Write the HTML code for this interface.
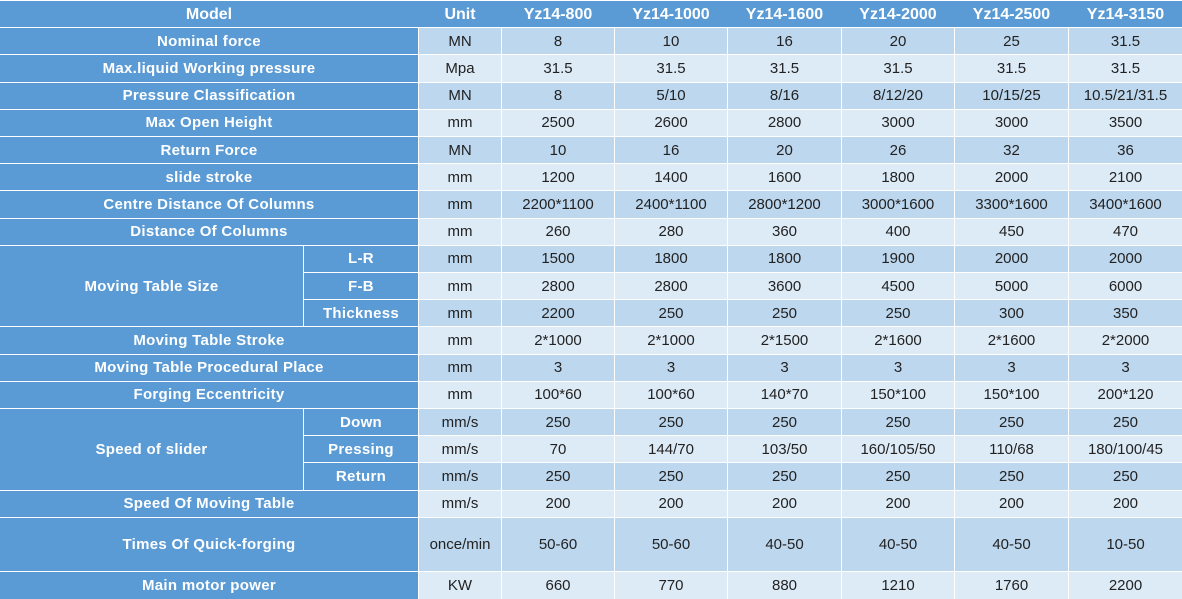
<!DOCTYPE html>
<html><head><meta charset="utf-8">
<style>
html,body{margin:0;padding:0;background:#fff;}
body{width:1182px;height:599px;position:relative;overflow:hidden;font-family:"Liberation Sans",Arial,sans-serif;}
div.x{position:absolute;display:flex;align-items:center;justify-content:center;white-space:nowrap;}
.hb{left:0;top:1px;width:1182px;height:26.2px;background:#5B9BD5;position:absolute;}
.h{color:#fff;font-weight:bold;font-size:16px;top:2px;height:26px;}
.lb{background:#5B9BD5;color:#fff;font-weight:bold;font-size:15px;letter-spacing:0.3px;}
.D{background:#BDD7EE;color:#222;font-size:15px;}
.T{background:#DDEBF7;color:#222;font-size:15px;}
.L{left:0;width:418px;}
.M{left:0;width:303px;}
.S{left:304px;width:114px;}
.u{left:419px;width:82px;}
.a{left:502px;width:112px;}
.b{left:615px;width:112px;}
.c{left:728px;width:113px;}
.d{left:842px;width:112px;}
.e{left:955px;width:113px;}
.f{left:1069px;width:113px;}
.r1{top:28.2px;height:26.2px;}
.r2{top:55.4px;height:26.2px;}
.r3{top:82.6px;height:26.2px;}
.r4{top:109.8px;height:26.2px;}
.r5{top:137px;height:26.2px;}
.r6{top:164.2px;height:26.2px;}
.r7{top:191.4px;height:26.2px;}
.r8{top:218.6px;height:26.2px;}
.r9{top:245.8px;height:26.2px;}
.r10{top:273px;height:26.2px;}
.r11{top:300.2px;height:26.2px;}
.r12{top:327.4px;height:26.2px;}
.r13{top:354.6px;height:26.2px;}
.r14{top:381.8px;height:26.2px;}
.r15{top:409px;height:26.2px;}
.r16{top:436.2px;height:26.2px;}
.r17{top:463.4px;height:26.2px;}
.r18{top:490.6px;height:26.2px;}
.r19{top:517.8px;height:53.4px;}
.r21{top:572.2px;height:26.8px;}
.m1{top:245.8px;height:80.6px;}
.m2{top:409px;height:80.6px;}
</style></head><body>
<div class="hb"></div>
<div class="x h L">Model</div>
<div class="x h u">Unit</div>
<div class="x h a">Yz14-800</div>
<div class="x h b">Yz14-1000</div>
<div class="x h c">Yz14-1600</div>
<div class="x h d">Yz14-2000</div>
<div class="x h e">Yz14-2500</div>
<div class="x h f">Yz14-3150</div>

<div class="x lb L r1">Nominal force</div>
<div class="x D u r1">MN</div><div class="x D a r1">8</div><div class="x D b r1">10</div><div class="x D c r1">16</div><div class="x D d r1">20</div><div class="x D e r1">25</div><div class="x D f r1">31.5</div>

<div class="x lb L r2">Max.liquid Working pressure</div>
<div class="x T u r2">Mpa</div><div class="x T a r2">31.5</div><div class="x T b r2">31.5</div><div class="x T c r2">31.5</div><div class="x T d r2">31.5</div><div class="x T e r2">31.5</div><div class="x T f r2">31.5</div>

<div class="x lb L r3">Pressure Classification</div>
<div class="x D u r3">MN</div><div class="x D a r3">8</div><div class="x D b r3">5/10</div><div class="x D c r3">8/16</div><div class="x D d r3">8/12/20</div><div class="x D e r3">10/15/25</div><div class="x D f r3">10.5/21/31.5</div>

<div class="x lb L r4">Max Open Height</div>
<div class="x T u r4">mm</div><div class="x T a r4">2500</div><div class="x T b r4">2600</div><div class="x T c r4">2800</div><div class="x T d r4">3000</div><div class="x T e r4">3000</div><div class="x T f r4">3500</div>

<div class="x lb L r5">Return Force</div>
<div class="x D u r5">MN</div><div class="x D a r5">10</div><div class="x D b r5">16</div><div class="x D c r5">20</div><div class="x D d r5">26</div><div class="x D e r5">32</div><div class="x D f r5">36</div>

<div class="x lb L r6">slide stroke</div>
<div class="x T u r6">mm</div><div class="x T a r6">1200</div><div class="x T b r6">1400</div><div class="x T c r6">1600</div><div class="x T d r6">1800</div><div class="x T e r6">2000</div><div class="x T f r6">2100</div>

<div class="x lb L r7">Centre Distance Of Columns</div>
<div class="x D u r7">mm</div><div class="x D a r7">2200*1100</div><div class="x D b r7">2400*1100</div><div class="x D c r7">2800*1200</div><div class="x D d r7">3000*1600</div><div class="x D e r7">3300*1600</div><div class="x D f r7">3400*1600</div>

<div class="x lb L r8">Distance Of Columns</div>
<div class="x T u r8">mm</div><div class="x T a r8">260</div><div class="x T b r8">280</div><div class="x T c r8">360</div><div class="x T d r8">400</div><div class="x T e r8">450</div><div class="x T f r8">470</div>

<div class="x lb M m1">Moving Table Size</div>
<div class="x lb S r9">L-R</div>
<div class="x D u r9">mm</div><div class="x D a r9">1500</div><div class="x D b r9">1800</div><div class="x D c r9">1800</div><div class="x D d r9">1900</div><div class="x D e r9">2000</div><div class="x D f r9">2000</div>
<div class="x lb S r10">F-B</div>
<div class="x T u r10">mm</div><div class="x T a r10">2800</div><div class="x T b r10">2800</div><div class="x T c r10">3600</div><div class="x T d r10">4500</div><div class="x T e r10">5000</div><div class="x T f r10">6000</div>
<div class="x lb S r11">Thickness</div>
<div class="x D u r11">mm</div><div class="x D a r11">2200</div><div class="x D b r11">250</div><div class="x D c r11">250</div><div class="x D d r11">250</div><div class="x D e r11">300</div><div class="x D f r11">350</div>

<div class="x lb L r12">Moving Table Stroke</div>
<div class="x T u r12">mm</div><div class="x T a r12">2*1000</div><div class="x T b r12">2*1000</div><div class="x T c r12">2*1500</div><div class="x T d r12">2*1600</div><div class="x T e r12">2*1600</div><div class="x T f r12">2*2000</div>

<div class="x lb L r13">Moving Table Procedural Place</div>
<div class="x D u r13">mm</div><div class="x D a r13">3</div><div class="x D b r13">3</div><div class="x D c r13">3</div><div class="x D d r13">3</div><div class="x D e r13">3</div><div class="x D f r13">3</div>

<div class="x lb L r14">Forging Eccentricity</div>
<div class="x T u r14">mm</div><div class="x T a r14">100*60</div><div class="x T b r14">100*60</div><div class="x T c r14">140*70</div><div class="x T d r14">150*100</div><div class="x T e r14">150*100</div><div class="x T f r14">200*120</div>

<div class="x lb M m2">Speed of slider</div>
<div class="x lb S r15">Down</div>
<div class="x D u r15">mm/s</div><div class="x D a r15">250</div><div class="x D b r15">250</div><div class="x D c r15">250</div><div class="x D d r15">250</div><div class="x D e r15">250</div><div class="x D f r15">250</div>
<div class="x lb S r16">Pressing</div>
<div class="x T u r16">mm/s</div><div class="x T a r16">70</div><div class="x T b r16">144/70</div><div class="x T c r16">103/50</div><div class="x T d r16">160/105/50</div><div class="x T e r16">110/68</div><div class="x T f r16">180/100/45</div>
<div class="x lb S r17">Return</div>
<div class="x D u r17">mm/s</div><div class="x D a r17">250</div><div class="x D b r17">250</div><div class="x D c r17">250</div><div class="x D d r17">250</div><div class="x D e r17">250</div><div class="x D f r17">250</div>

<div class="x lb L r18">Speed Of Moving Table</div>
<div class="x T u r18">mm/s</div><div class="x T a r18">200</div><div class="x T b r18">200</div><div class="x T c r18">200</div><div class="x T d r18">200</div><div class="x T e r18">200</div><div class="x T f r18">200</div>

<div class="x lb L r19">Times Of Quick-forging</div>
<div class="x D u r19">once/min</div><div class="x D a r19">50-60</div><div class="x D b r19">50-60</div><div class="x D c r19">40-50</div><div class="x D d r19">40-50</div><div class="x D e r19">40-50</div><div class="x D f r19">10-50</div>

<div class="x lb L r21">Main motor power</div>
<div class="x T u r21">KW</div><div class="x T a r21">660</div><div class="x T b r21">770</div><div class="x T c r21">880</div><div class="x T d r21">1210</div><div class="x T e r21">1760</div><div class="x T f r21">2200</div>
</body></html>
